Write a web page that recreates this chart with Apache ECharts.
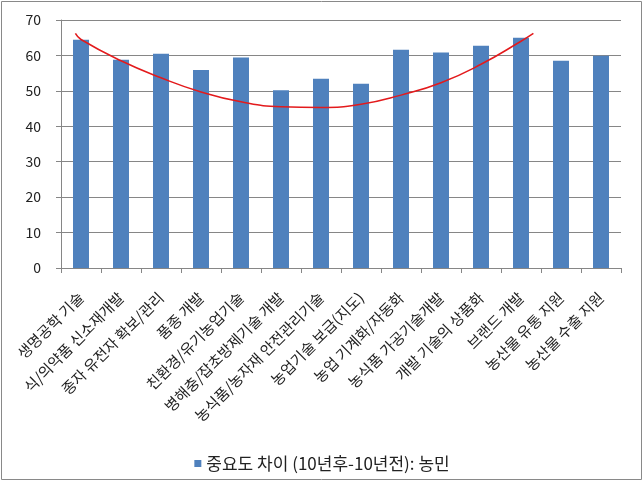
<!DOCTYPE html>
<html><head><meta charset="utf-8">
<script src="https://cdn.jsdelivr.net/npm/echarts@6/dist/echarts.min.js"></script>
<style>html,body{margin:0;padding:0;background:#fff}#c{width:644px;height:483px}</style>
</head><body><div id="c"></div>
<script>
const categories = ['생명공학 기술','식/의약품 신소재개발','종자 유전자 확보/관리','품종 개발','친환경/유기농업기술','병해충/잡초방제기술 개발','농식품/농자재 안전관리기술','농업기술 보급(지도)','농업 기계화/자동화','농식품 가공기술개발','개발 기술의 상품화','브랜드 개발','농산물 유통 지원','농산물 수출 지원'];
const values = [64.4, 58.8, 60.5, 55.9, 59.4, 50.2, 53.4, 52.0, 61.6, 60.8, 62.7, 65.0, 58.5, 59.9];
const trendX = [-0.14, 0, 1, 2, 3, 4, 5, 6, 7, 8, 9, 10, 11, 11.31];
const trendY = [66.2, 64.5, 58.5, 53.7, 49.7, 46.9, 45.5, 45.3, 46.2, 48.8, 52.3, 57.5, 64.0, 66.2];
const yTicks = [0, 10, 20, 30, 40, 50, 60, 70];
const legendName = '중요도 차이 (10년후-10년전): 농민';

const chart = echarts.init(document.getElementById('c'));
const font = '"Noto Sans CJK KR", "Noto Sans", sans-serif';
chart.setOption({
  animation: false,
  textStyle: {fontFamily: font},
  graphic: [{type: 'rect', shape: {x: 1.5, y: 1.5, width: 640, height: 478}, style: {fill: null, stroke: '#898989', lineWidth: 1}, silent: true, z: -1}],
  grid: {left: 61, right: 23, top: 20, bottom: 215, containLabel: false},
  legend: {
    top: 450, left: 'center', icon: 'rect', itemWidth: 7, itemHeight: 7, itemGap: 6,
    data: [legendName],
    textStyle: {fontSize: 17, color: '#222', fontFamily: font}
  },
  xAxis: [{
    type: 'category', data: categories, boundaryGap: true,
    axisLine: {lineStyle: {color: '#868686'}},
    axisTick: {show: true, alignWithLabel: false, length: 5, lineStyle: {color: '#868686'}},
    axisLabel: {rotate: 45, interval: 0, fontSize: 15, color: '#222', margin: 27, fontFamily: font}
  }, {
    type: 'value', min: -0.5, max: 13.5, show: false
  }],
  yAxis: {
    type: 'value', min: yTicks[0], max: yTicks[yTicks.length - 1], interval: 10,
    axisLine: {show: true, onZero: false, lineStyle: {color: '#868686'}},
    axisTick: {show: true, length: 5, lineStyle: {color: '#868686'}},
    axisLabel: {fontSize: 14, color: '#222', margin: 20, fontFamily: font},
    splitLine: {lineStyle: {color: '#868686'}}
  },
  series: [{
    name: legendName, type: 'bar', data: values, barWidth: 16,
    itemStyle: {color: '#4F81BD'}
  }, {
    name: 'trend', type: 'line', xAxisIndex: 1,
    data: trendX.map((x, i) => [x, trendY[i]]),
    smooth: true, symbol: 'none',
    lineStyle: {color: '#E31A1C', width: 1.5}, z: 5
  }]
});
</script></body></html>
